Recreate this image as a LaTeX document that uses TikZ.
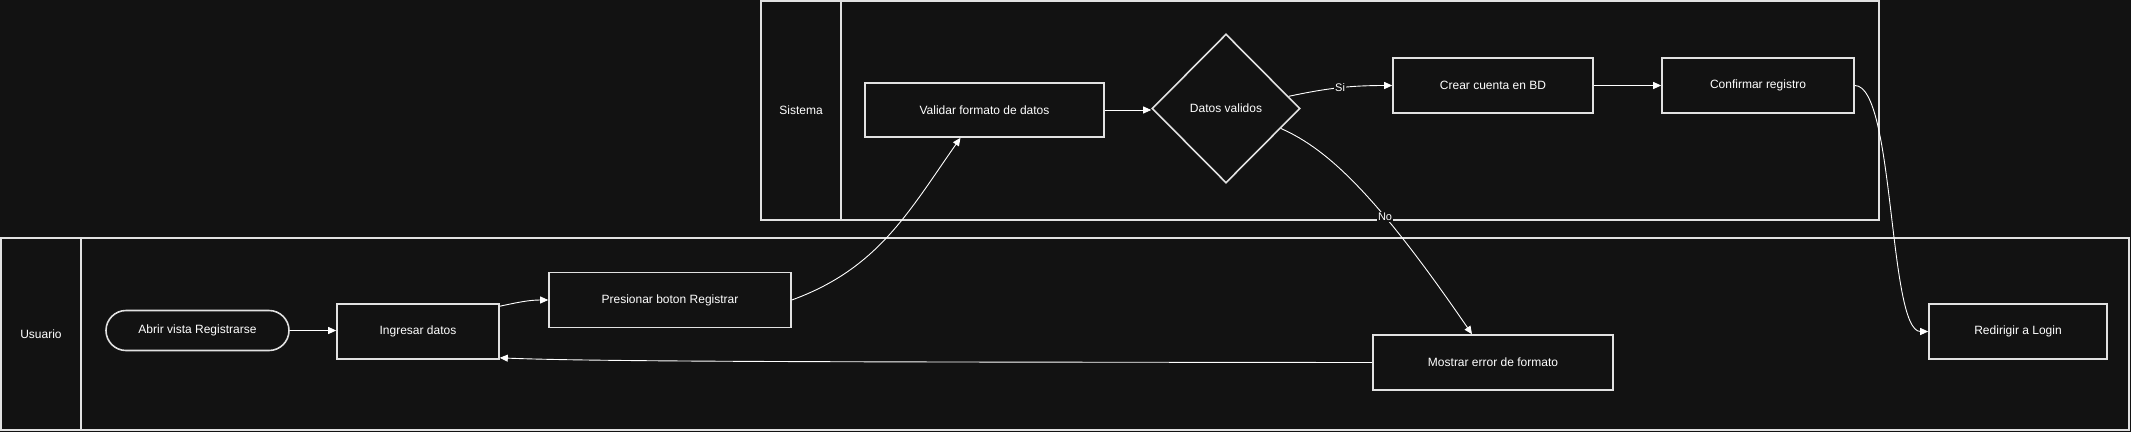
\documentclass[tikz,border=0pt]{standalone}
\usepackage{fontspec}
\setmainfont{Liberation Sans}
\usetikzlibrary{shapes.geometric,arrows.meta,calc}
\definecolor{bg}{RGB}{18,18,18}
\definecolor{edge}{RGB}{225,225,225}
\tikzset{
  box/.style={draw=edge,line width=1.6pt,fill=bg,text=white,inner sep=0pt,font=\fontsize{12}{14}\selectfont},
  procbox/.style={box,rectangle},
  startbox/.style={box,rectangle,rounded corners=20pt},
  decbox/.style={box,diamond,aspect=1},
  lane/.style={draw=edge,line width=1.5pt},
  lanetext/.style={text=white,font=\fontsize{12}{14}\selectfont},
  conn/.style={draw=white,line width=0.9pt,-{Triangle[length=8pt,width=7pt]}},
  lbl/.style={fill=bg,text=white,inner sep=1pt,font=\fontsize{11}{13}\selectfont},
}
\begin{document}
\begin{tikzpicture}[x=1pt,y=-1pt]
\fill[bg] (0,0) rectangle (2131,432);
\useasboundingbox (0,0) rectangle (2131,432);
% pools
\draw[lane] (761,1) rectangle (1879,220);
\draw[lane] (841,1) -- (841,220);
\draw[lane] (1,238) rectangle (2129,430);
\draw[lane] (81,238) -- (81,430);
\node[lanetext] (sislbl) at (801,110) {Sistema};
\node[lanetext] (usulbl) at (41,334) {Usuario};
% nodes
\node[procbox,minimum width=239pt,minimum height=54pt] (val) at (984.5,110) {Validar formato de datos};
\node[decbox,minimum width=148pt,minimum height=149pt] (dia) at (1226,108.5) {Datos validos};
\node[procbox,minimum width=200pt,minimum height=55pt] (crear) at (1493,85.5) {Crear cuenta en BD};
\node[procbox,minimum width=192pt,minimum height=55pt] (conf) at (1758,85.5) {Confirmar registro};
\node[startbox,minimum width=183pt,minimum height=40pt] (abr) at (197.5,330.5) {Abrir vista Registrarse};
\node[procbox,minimum width=162pt,minimum height=55pt] (ing) at (418,331.5) {Ingresar datos};
\node[procbox,minimum width=242pt,minimum height=55pt] (pres) at (670,300) {Presionar boton Registrar};
\node[procbox,minimum width=240pt,minimum height=55pt] (mos) at (1493,362.5) {Mostrar error de formato};
\node[procbox,minimum width=178pt,minimum height=55pt] (red) at (2018,331.5) {Redirigir a Login};
% connectors
\draw[conn] (abr.east) -- (abr.east -| ing.west);
\draw[conn] ([yshift=-3pt]ing.north east) to[out=12,in=180] (pres.west);
\draw[conn] (pres.east) to[out=20,in=235] ([xshift=-24pt]val.south);
\draw[conn] (val.east) -- (val.east -| dia.west);
\draw[conn] (dia.11) to[out=12,in=180] node[lbl,pos=0.5] {Si} (crear.west);
\draw[conn] (crear.east) -- (conf.west);
\draw[conn] (dia.-20) .. controls (1330,150) and (1380,200) .. node[lbl,pos=0.63] {No} ([xshift=-21pt]mos.north);
\draw[conn] (conf.east) .. controls ([xshift=40pt]conf.east) and ([xshift=-40pt]red.west) .. (red.west);
\draw[conn] (mos.west) .. controls (900,362) and (600,362) .. ([yshift=2pt]ing.south east);
\end{tikzpicture}
\end{document}
